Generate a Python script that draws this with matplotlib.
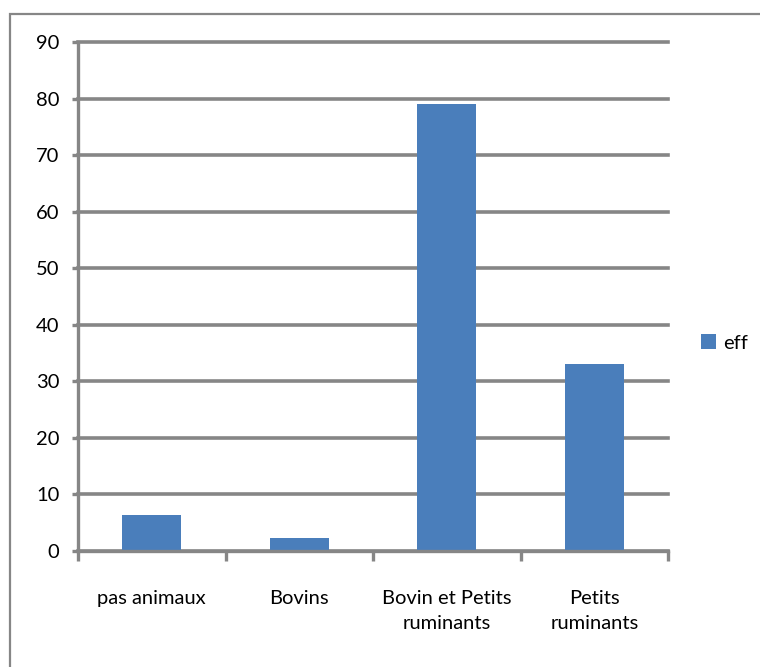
import matplotlib
matplotlib.use("Agg")
import matplotlib.pyplot as plt
from matplotlib.patches import Rectangle
import numpy as np

plt.rcParams['font.family'] = ['Lato', 'DejaVu Sans']

categories = ["pas animaux", "Bovins", "Bovin et Petits\nruminants", "Petits\nruminants"]
eff = [6.3, 2.3, 79, 33]
series_name = "eff"
y_ticks = [0, 10, 20, 30, 40, 50, 60, 70, 80, 90]

bar_color = "#4A7EBB"
grid_color = "#868686"
fs = 14.5

fig = plt.figure(figsize=(7.6, 6.67), dpi=100)

# outer chart-area frame
fig.patches.append(Rectangle((10 / 760, -0.05), 1.2, 1 - 14 / 667 + 0.05,
                             transform=fig.transFigure, fill=False,
                             edgecolor=grid_color, linewidth=1.6, zorder=0))

ax = fig.add_axes([78 / 760, 1 - 551 / 667, (668 - 78) / 760, (551 - 42) / 667])

x = np.arange(len(categories))
ax.bar(x, eff, width=0.4, color=bar_color, label=series_name, zorder=3)

ax.set_xlim(-0.5, len(categories) - 0.5)
ax.set_ylim(0, 90)
ax.set_yticks(y_ticks)
ax.yaxis.grid(True, color=grid_color, linewidth=2.6, zorder=1)
for gl in ax.get_ygridlines():
    gl.set_clip_on(False)
ax.set_axisbelow(True)

for s in ["top", "right"]:
    ax.spines[s].set_visible(False)
for s in ["left", "bottom"]:
    ax.spines[s].set_color(grid_color)
    ax.spines[s].set_linewidth(2.4)
    ax.spines[s].set_zorder(4)

ax.tick_params(axis="y", length=4.5, width=2.4, color=grid_color,
               labelsize=fs, pad=9, labelcolor="black")
ax.set_xticks(x)
ax.set_xticklabels(categories, fontsize=fs, linespacing=1.6)
ax.tick_params(axis="x", which="major", length=0, pad=28)
ax.set_xticks(np.arange(len(categories) + 1) - 0.5, minor=True)
ax.tick_params(axis="x", which="minor", length=7, width=2.4, color=grid_color)

leg = ax.legend(loc="center left", bbox_to_anchor=(1.056, 0.4086), frameon=False,
                fontsize=fs, handlelength=0.75, handleheight=0.75, handletextpad=0.35,
                borderaxespad=0, borderpad=0)

fig.savefig("out.png", dpi=100, facecolor="white")
